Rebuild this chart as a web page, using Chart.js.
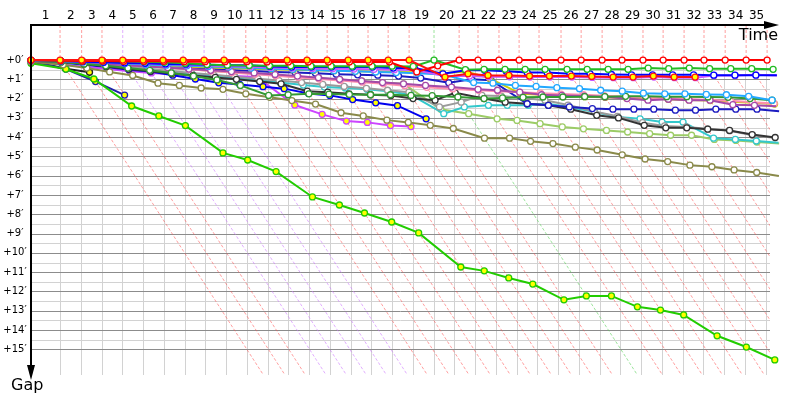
<!DOCTYPE html>
<html>
<head>
<meta charset="utf-8">
<script src="https://cdn.jsdelivr.net/npm/chart.js@4"></script>
<style>
  body { margin: 0; background: #fff; }
  #wrap { width: 800px; height: 400px; }
</style>
</head>
<body>
<div id="wrap"><canvas id="gapChart" width="800" height="400"></canvas></div>
<script>
// leader's lap end times (s), lap 1..35
const lapEnd = [140, 244, 342, 442, 540, 636, 733, 834, 930, 1035, 1131, 1234, 1330, 1427, 1528, 1624, 1721, 1822,
  1942, 2063, 2154, 2255, 2352, 2448, 2554, 2651, 2752, 2848, 2949, 3046, 3147, 3243, 3345, 3446, 3547];
const lapLabels = lapEnd.map((t, i) => String(i + 1));
const gapTicks = [0, 1, 2, 3, 4, 5, 6, 7, 8, 9, 10, 11, 12, 13, 14, 15]; // minutes

// gap to leader (s) at the end of each lap, index 0 = start
const gapRW = [0, 2, 3, 3, 4, 4, 4, 5, 5, 5, 5, 6, 6, 6, 6, 6, 6, 6, 37, 18, 0, 0, 0, 0, 0, 0, 0, 0, 0, 0, 0, 0, 0, 0, 0, 0];
const gapRY = [0, 0, 0, 0, 0, 0, 0, 0, 0, 0, 0, 0, 0, 0, 0, 0, 0, 0, 0, 53, 43, 48, 48, 50, 50, 50, 51, 53, 53, 50, 53, 53];
const gapGW = [1, 2, 3, 3, 4, 5, 7, 10, 14, 16, 17, 18, 18, 19, 19, 19, 19, 19, 20, 0, 30, 29, 29, 29, 29, 29, 29, 29, 29, 25, 27, 25, 27, 27, 27, 29];
const gapBW = [1, 3, 5, 7, 9, 10, 12, 13, 15, 16, 16, 20, 22, 22, 22, 22, 22, 25, 25, 43, 32, 32, 35, 39, 39, 43, 43, 45, 46, 46, 46, 46, 47, 47, 47, 47];
const gapPW = [2, 3, 5, 7, 9, 11, 13, 15, 17, 19, 21, 23, 25, 26, 27, 28, 29, 30, 31, 50, 50, 52, 52, 53, 53, 53, 54, 55, 55, 53, 55, 55, 48, 48, 46, 48];
const gapLB = [1, 3, 6, 8, 11, 14, 16, 18, 20, 22, 25, 27, 29, 31, 33, 35, 37, 39, 41, 45, 70, 72, 79, 82, 86, 89, 94, 97, 103, 105, 105, 107, 108, 113, 125];
const gapFG = [2, 6, 12, 18, 25, 32, 40, 50, 62, 79, 110, 108, 105, 106, 107, 108, 108, 110, 111, 115, 120, 118, 116, 115, 115, 114, 114, 113, 113, 114, 114, 115, 116, 120, 125];
const gapMP = [2, 4, 8, 12, 16, 20, 24, 28, 32, 36, 40, 45, 50, 55, 60, 65, 70, 74, 79, 84, 91, 94, 100, 108, 110, 112, 115, 120, 125, 122, 125, 125, 139, 141, 144];
const gapPK = [3, 4, 8, 12, 16, 20, 24, 29, 34, 39, 44, 49, 54, 59, 64, 69, 74, 80, 85, 90, 94, 97, 100, 103, 106, 108, 111, 114, 117, 119, 121, 124, 127, 131, 135];
const gapYL = [1, 3, 6, 9, 12, 15, 18, 21, 23, 25, 27, 29, 30, 32, 33, 35, 36, 37, 38, 41, 36, 57, 105, 108, 112, 114, 116, 118, 120, 122, 124, 126, 130, 133, 137];
const gapDB = [2, 5, 9, 13, 16, 19, 22, 25, 28, 31, 34, 37, 39, 41, 44, 46, 47, 50, 56, 71, 60, 63, 136, 141, 146, 151, 153, 153, 153, 156, 156, 153, 153, 153, 159];
const gapBK = [3, 5, 12, 20, 28, 35, 42, 48, 54, 60, 67, 74, 97, 100, 105, 108, 110, 120, 125, 102, 120, 131, 136, 141, 153, 172, 180, 203, 211, 211, 215, 219, 232, 241];
const gapGR = [3, 4, 10, 16, 22, 28, 34, 40, 46, 52, 58, 64, 70, 76, 82, 88, 94, 100, 146, 131, 110, 112, 118, 125, 140, 160, 175, 195, 205, 208, 214, 220, 234, 243];
const gapTQ = [2, 4, 9, 15, 21, 28, 35, 42, 49, 56, 63, 70, 78, 84, 87, 91, 97, 108, 167, 146, 141, 141, 141, 136, 146, 162, 177, 183, 193, 193, 243, 247, 252, 257];
const gapYG = [2, 5, 9, 13, 17, 21, 25, 29, 33, 38, 42, 47, 52, 56, 61, 65, 70, 74, 153, 167, 183, 188, 198, 208, 214, 219, 224, 229, 234, 234, 247, 250, 255, 260];
const gapOL = [5, 15, 25, 37, 48, 72, 79, 87, 91, 105, 116, 126, 137, 164, 174, 187, 194, 203, 213, 243, 243, 253, 260, 271, 280, 295, 308, 316, 327, 332, 342, 350, 361];
const gapLM = [10, 28, 59, 143, 174, 204, 289, 311, 347, 426, 451, 476, 504, 538, 644, 656, 678, 697, 746, 734, 734, 768, 778, 793, 858, 893, 933];
const gapBY = [2, 8, 15, 22, 30, 36, 47, 59, 71, 76, 83, 89, 104, 110, 123, 133, 142, 183];
const gapMY = [3, 15, 22, 28, 35, 40, 44, 48, 50, 50, 53, 140, 169, 190, 194, 204, 207];
const gapNY = [5, 28, 67, 109];
const gapBKY = [3, 27, 38];

// car crossing time = leader lap time + gap
function toPoints(gaps) {
  return gaps.map((g, lap) => ({ x: lap === 0 ? 0 : lapEnd[lap - 1] + g, y: g }));
}

function car(gaps, color, fill) {
  return {
    data: toPoints(gaps),
    showLine: true,
    borderColor: color,
    backgroundColor: color,
    borderWidth: 2,
    pointRadius: 3,
    pointBorderWidth: 1.3,
    pointBorderColor: color,
    pointBackgroundColor: fill,
    clip: false
  };
}

const W = '#ffffff', Y = '#ffff00';
// first dataset is drawn on top
const datasets = [
  car(gapRY, '#ff1010', Y),
  car(gapRW, '#ff0000', W),
  car(gapGW, '#22bb22', W),
  car(gapBW, '#0000ff', W),
  car(gapPW, '#cc55ff', W),
  car(gapLB, '#22a8ff', W),
  car(gapFG, '#339933', W),
  car(gapMP, '#a448a8', W),
  car(gapPK, '#ff8fae', W),
  car(gapYL, '#cccc00', W),
  car(gapDB, '#1c1cc0', W),
  car(gapBK, '#333333', W),
  car(gapGR, '#9a9a9a', W),
  car(gapTQ, '#33c8cc', W),
  car(gapYG, '#9ccc66', W),
  car(gapOL, '#8a8a4a', W),
  car(gapLM, '#22cc00', Y),
  car(gapBY, '#0000ee', Y),
  car(gapMY, '#cc44ff', Y),
  car(gapNY, '#2020aa', Y),
  car(gapBKY, '#222222', Y)
];

const raceGrid = {
  id: 'raceGrid',
  beforeDatasetsDraw(chart) {
    const { ctx, chartArea: a, scales: { x, y } } = chart;
    const y0 = y.getPixelForValue(0);
    const right = x.getPixelForValue(3561);
    ctx.save();
    ctx.lineWidth = 1;
    // half-minute lines
    ctx.strokeStyle = '#d2d2d2';
    for (let m = 0.5; m < 15; m++) {
      const py = Math.round(y.getPixelForValue(m * 60)) + 0.5;
      ctx.beginPath(); ctx.moveTo(a.left, py); ctx.lineTo(right, py); ctx.stroke();
    }
    // 100 s vertical grid
    for (let t = 140; t <= 3561; t += 100) {
      const px = Math.round(x.getPixelForValue(t)) + 0.5;
      ctx.beginPath(); ctx.moveTo(px, y0); ctx.lineTo(px, a.bottom); ctx.stroke();
    }
    // minute lines
    ctx.strokeStyle = '#8c8c8c';
    gapTicks.forEach(m => {
      const py = Math.round(y.getPixelForValue(m * 60)) + 0.5;
      ctx.beginPath(); ctx.moveTo(a.left, py); ctx.lineTo(right, py); ctx.stroke();
    });
    // lap lines: vertical above +0', then diagonal (same lap crossing)
    ctx.beginPath(); ctx.rect(a.left, a.top, a.width, a.height); ctx.clip();
    ctx.setLineDash([3, 2]);
    lapEnd.forEach((t, i) => {
      const lap = i + 1;
      let col = 'rgba(255,80,80,0.55)';
      if (lap >= 4 && lap <= 8) col = 'rgba(205,120,255,0.6)';
      if (lap === 19) col = 'rgba(90,210,90,0.6)';
      ctx.strokeStyle = col;
      const G = 1000;
      ctx.beginPath();
      ctx.moveTo(x.getPixelForValue(t), a.top);
      ctx.lineTo(x.getPixelForValue(t), y0);
      ctx.lineTo(x.getPixelForValue(t + G), y.getPixelForValue(G));
      ctx.stroke();
    });
    ctx.restore();
  },
  afterDatasetsDraw(chart) {
    const { ctx, chartArea: a, scales: { x, y } } = chart;
    ctx.save();
    ctx.strokeStyle = '#000';
    ctx.fillStyle = '#000';
    ctx.lineWidth = 2;
    // top time axis with arrow
    ctx.beginPath(); ctx.moveTo(a.left - 1, a.top); ctx.lineTo(768, a.top); ctx.stroke();
    ctx.beginPath(); ctx.moveTo(779, a.top); ctx.lineTo(764, a.top - 4); ctx.lineTo(764, a.top + 4); ctx.closePath(); ctx.fill();
    // left gap axis with arrow
    ctx.beginPath(); ctx.moveTo(a.left, a.top); ctx.lineTo(a.left, 368); ctx.stroke();
    ctx.beginPath(); ctx.moveTo(a.left, 380); ctx.lineTo(a.left - 4, 365); ctx.lineTo(a.left + 4, 365); ctx.closePath(); ctx.fill();

    // lap numbers
    ctx.font = '12px "DejaVu Sans"';
    ctx.textAlign = 'center';
    ctx.textBaseline = 'middle';
    lapEnd.forEach((t, i) => {
      const prev = i === 0 ? 0 : lapEnd[i - 1];
      ctx.fillText(lapLabels[i], x.getPixelForValue((prev + t) / 2), 16);
    });
    // gap labels
    ctx.font = '10px "DejaVu Sans"';
    gapTicks.forEach(m => {
      ctx.fillText('+' + m + '\u2032', 15, y.getPixelForValue(m * 60));
    });
    ctx.font = '16px "DejaVu Sans"';
    ctx.textAlign = 'right';
    ctx.fillText('Time', 778, 36);
    ctx.textAlign = 'left';
    ctx.fillText('Gap', 11, 386);
    ctx.restore();
  }
};

new Chart(document.getElementById('gapChart'), {
  type: 'scatter',
  data: { datasets },
  options: {
    responsive: false,
    animation: false,
    layout: { padding: { left: 31, right: 30, top: 25, bottom: 25 } },
    plugins: { legend: { display: false }, tooltip: { enabled: false } },
    scales: {
      x: { type: 'linear', min: 0, max: 3561, display: false },
      y: { type: 'linear', min: -109, max: 980, reverse: true, display: false }
    }
  },
  plugins: [raceGrid]
});
</script>
</body>
</html>
